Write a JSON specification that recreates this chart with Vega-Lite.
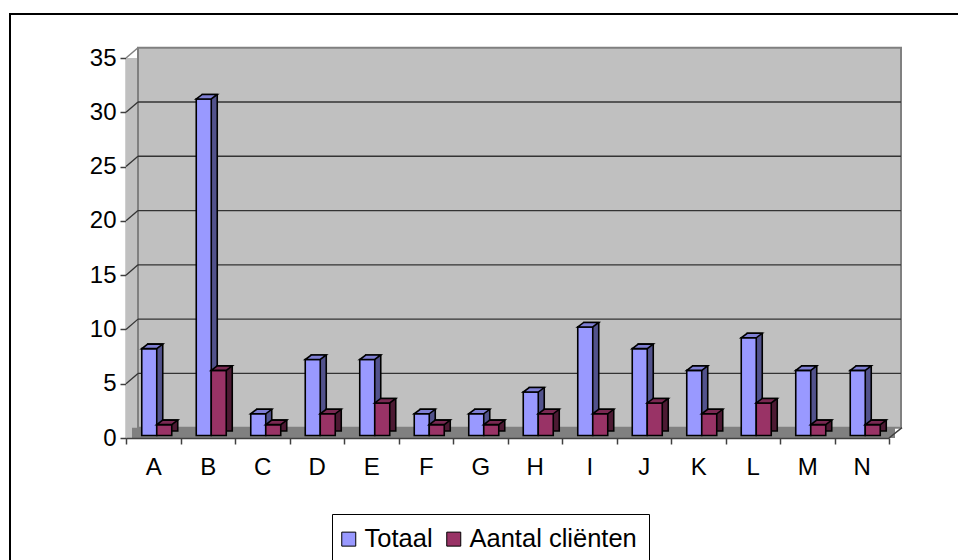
{
  "$schema": "https://vega.github.io/schema/vega-lite/v6.json",
  "width": 960,
  "height": 560,
  "autosize": "none",
  "padding": {"left": 10, "top": 14, "right": 0, "bottom": 0},
  "background": "white",
  "config": {
    "view": {"stroke": "#000000", "strokeWidth": 2},
    "font": "Liberation Sans",
    "axis": {"labelFont": "Liberation Sans", "labelColor": "#000000", "labelFontSize": 24, "domainColor": "#404040", "domainWidth": 1.5, "tickColor": "#404040", "tickWidth": 1.5, "grid": false, "title": null}
  },
  "datasets": {
    "bars": [
      {"cat": "A", "series": "Totaal", "value": 8}, {"cat": "A", "series": "Aantal cliënten", "value": 1},
      {"cat": "B", "series": "Totaal", "value": 31}, {"cat": "B", "series": "Aantal cliënten", "value": 6},
      {"cat": "C", "series": "Totaal", "value": 2}, {"cat": "C", "series": "Aantal cliënten", "value": 1},
      {"cat": "D", "series": "Totaal", "value": 7}, {"cat": "D", "series": "Aantal cliënten", "value": 2},
      {"cat": "E", "series": "Totaal", "value": 7}, {"cat": "E", "series": "Aantal cliënten", "value": 3},
      {"cat": "F", "series": "Totaal", "value": 2}, {"cat": "F", "series": "Aantal cliënten", "value": 1},
      {"cat": "G", "series": "Totaal", "value": 2}, {"cat": "G", "series": "Aantal cliënten", "value": 1},
      {"cat": "H", "series": "Totaal", "value": 4}, {"cat": "H", "series": "Aantal cliënten", "value": 2},
      {"cat": "I", "series": "Totaal", "value": 10}, {"cat": "I", "series": "Aantal cliënten", "value": 2},
      {"cat": "J", "series": "Totaal", "value": 8}, {"cat": "J", "series": "Aantal cliënten", "value": 3},
      {"cat": "K", "series": "Totaal", "value": 6}, {"cat": "K", "series": "Aantal cliënten", "value": 2},
      {"cat": "L", "series": "Totaal", "value": 9}, {"cat": "L", "series": "Aantal cliënten", "value": 3},
      {"cat": "M", "series": "Totaal", "value": 6}, {"cat": "M", "series": "Aantal cliënten", "value": 1},
      {"cat": "N", "series": "Totaal", "value": 6}, {"cat": "N", "series": "Aantal cliënten", "value": 1}
    ],
    "grid": [{"v": 5}, {"v": 10}, {"v": 15}, {"v": 20}, {"v": 25}, {"v": 30}],
    "one": [{"k": 1}]
  },
  "layer": [
    {
      "data": {"name": "one"},
      "mark": {"type": "rect", "fill": "#C0C0C0"},
      "encoding": {
        "x": {"datum": "A", "type": "nominal", "bandPosition": 0, "scale": {"domain": ["A","B","C","D","E","F","G","H","I","J","K","L","M","N"], "range": [116, 879], "paddingInner": 0, "paddingOuter": 0}, "axis": {"orient": "bottom", "offset": -136, "tickBand": "extent", "labelAngle": 0, "tickSize": 6, "labelPadding": 11}},
        "x2": {"datum": "N", "bandPosition": 1},
        "y": {"datum": 0, "type": "quantitative", "scale": {"domain": [0, 35], "range": [424, 44], "nice": false, "zero": true}, "axis": {"values": [0,5,10,15,20,25,30,35], "offset": -116, "tickSize": 6, "labelPadding": 4}},
        "y2": {"datum": 35}
      }
    },
    {
      "data": {"name": "one"},
      "mark": {"type": "rect", "fill": "#C0C0C0", "stroke": "#808080", "strokeWidth": 2, "xOffset": 12, "x2Offset": 12, "yOffset": -10.3, "y2Offset": -10.3},
      "encoding": {
        "x": {"datum": "A", "type": "nominal", "bandPosition": 0},
        "x2": {"datum": "N", "bandPosition": 1},
        "y": {"datum": 0, "type": "quantitative"},
        "y2": {"datum": 35}
      }
    },
    {
      "data": {"name": "one"},
      "mark": {"type": "rect", "fill": "#808080", "xOffset": 6, "x2Offset": 6, "yOffset": -10.3, "y2Offset": 0},
      "encoding": {
        "x": {"datum": "A", "type": "nominal", "bandPosition": 0},
        "x2": {"datum": "N", "bandPosition": 1},
        "y": {"datum": 0, "type": "quantitative"},
        "y2": {"datum": 0}
      }
    },
    {
      "data": {"name": "grid"},
      "mark": {"type": "rule", "stroke": "#333333", "strokeWidth": 1.3, "xOffset": 12, "x2Offset": 12, "yOffset": -10.3},
      "encoding": {
        "x": {"datum": "A", "type": "nominal", "bandPosition": 0},
        "x2": {"datum": "N", "bandPosition": 1},
        "y": {"field": "v", "type": "quantitative"}
      }
    },
    {
      "data": {"name": "grid"},
      "mark": {"type": "rule", "stroke": "#333333", "strokeWidth": 1.3, "x2Offset": 12, "y2Offset": -10.3},
      "encoding": {
        "x": {"datum": "A", "type": "nominal", "bandPosition": 0},
        "x2": {"datum": "A", "bandPosition": 0},
        "y": {"field": "v", "type": "quantitative"},
        "y2": {"field": "v"}
      }
    },
    {
      "data": {"name": "one"},
      "mark": {"type": "rule", "stroke": "#808080", "strokeWidth": 1.5, "x2Offset": 12, "y2Offset": -10.3},
      "encoding": {
        "x": {"datum": "A", "type": "nominal", "bandPosition": 0},
        "x2": {"datum": "A", "bandPosition": 0},
        "y": {"datum": 35, "type": "quantitative"},
        "y2": {"datum": 35}
      }
    },
    {
      "data": {"name": "one"},
      "mark": {"type": "rule", "stroke": "#404040", "strokeWidth": 1.5, "x2Offset": 13, "y2Offset": -10.3},
      "encoding": {
        "x": {"datum": "N", "type": "nominal", "bandPosition": 1},
        "x2": {"datum": "N", "bandPosition": 1},
        "y": {"datum": 0, "type": "quantitative"},
        "y2": {"datum": 0}
      }
    },
    {
      "data": {"name": "bars"},
      "transform": [{"filter": "datum.series === 'Totaal'"}],
      "mark": {"type": "bar", "width": 15, "fill": "#52528C", "stroke": "#000000", "strokeWidth": 1.6, "xOffset": 2, "yOffset": -7, "y2Offset": -7},
      "encoding": {
        "x": {"field": "cat", "type": "nominal"},
        "y": {"field": "value", "type": "quantitative"}
      }
    },
    {
      "data": {"name": "bars"},
      "transform": [{"filter": "datum.series === 'Totaal'"}],
      "mark": {"type": "bar", "width": 15, "stroke": "#000000", "strokeWidth": 1.6, "xOffset": -4, "yOffset": -2.5, "y2Offset": -2.5, "opacity": 1},
      "encoding": {
        "x": {"field": "cat", "type": "nominal"},
        "y": {"field": "value", "type": "quantitative"},
        "color": {"field": "series", "type": "nominal", "scale": {"domain": ["Totaal", "Aantal cliënten"], "range": ["#9999FF", "#993366"]},
          "legend": {"orient": "none", "legendX": 322, "legendY": 500, "direction": "horizontal", "title": null, "strokeColor": "#000000", "fillColor": "#FFFFFF", "padding": 12, "symbolType": "square", "symbolSize": 196, "symbolOffset": -8, "symbolStrokeColor": "#000000", "symbolStrokeWidth": 1, "symbolOpacity": 1, "labelFontSize": 25.5, "labelFont": "Liberation Sans", "labelColor": "#000000", "labelOffset": 3, "columnPadding": 11, "labelLimit": 400}}
      }
    },
    {
      "data": {"name": "bars"},
      "transform": [{"filter": "datum.series === 'Totaal'"}],
      "mark": {"type": "point", "shape": "M-7.5,0 L7.5,0 L13.5,-4.5 L-1.5,-4.5 Z", "size": 4, "filled": true, "fill": "#7F7FD4", "stroke": "#000000", "strokeWidth": 1.6, "opacity": 1, "xOffset": -4, "yOffset": -2.5},
      "encoding": {
        "x": {"field": "cat", "type": "nominal"},
        "y": {"field": "value", "type": "quantitative"}
      }
    },
    {
      "data": {"name": "bars"},
      "transform": [{"filter": "datum.series === 'Aantal cliënten'"}],
      "mark": {"type": "bar", "width": 15, "fill": "#4D1A33", "stroke": "#000000", "strokeWidth": 1.6, "xOffset": 17, "yOffset": -7, "y2Offset": -7},
      "encoding": {
        "x": {"field": "cat", "type": "nominal"},
        "y": {"field": "value", "type": "quantitative"}
      }
    },
    {
      "data": {"name": "bars"},
      "transform": [{"filter": "datum.series === 'Aantal cliënten'"}],
      "mark": {"type": "bar", "width": 15, "stroke": "#000000", "strokeWidth": 1.6, "xOffset": 11, "yOffset": -2.5, "y2Offset": -2.5, "opacity": 1},
      "encoding": {
        "x": {"field": "cat", "type": "nominal"},
        "y": {"field": "value", "type": "quantitative"},
        "color": {"field": "series", "type": "nominal"}
      }
    },
    {
      "data": {"name": "bars"},
      "transform": [{"filter": "datum.series === 'Aantal cliënten'"}],
      "mark": {"type": "point", "shape": "M-7.5,0 L7.5,0 L13.5,-4.5 L-1.5,-4.5 Z", "size": 4, "filled": true, "fill": "#7A2952", "stroke": "#000000", "strokeWidth": 1.6, "opacity": 1, "xOffset": 11, "yOffset": -2.5},
      "encoding": {
        "x": {"field": "cat", "type": "nominal"},
        "y": {"field": "value", "type": "quantitative"}
      }
    }
  ]
}
